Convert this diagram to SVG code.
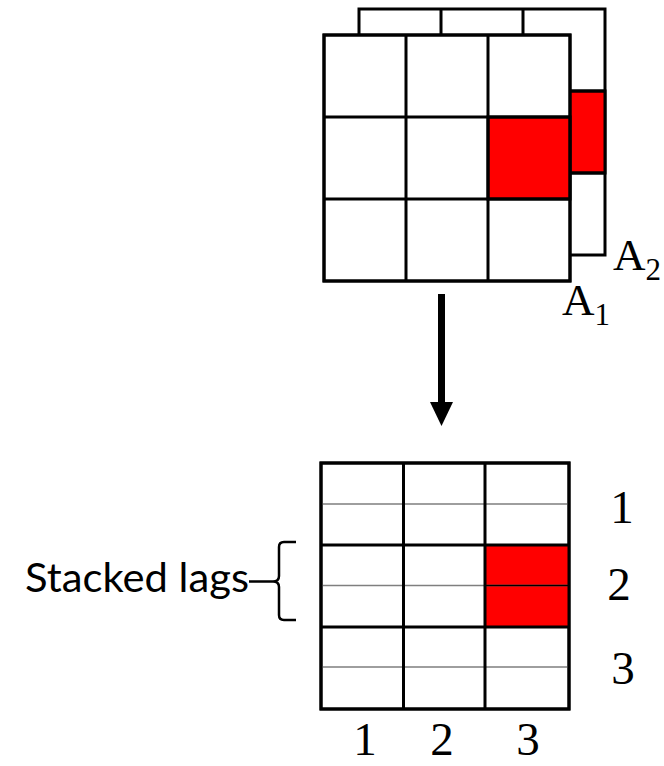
<svg xmlns="http://www.w3.org/2000/svg" width="664" height="766" viewBox="0 0 664 766">
  <style>
    .cell { fill: #ffffff; stroke: #000000; stroke-width: 3; }
    .red { fill: #ff0000; stroke: #000000; stroke-width: 3; }
    .grid { stroke: #000000; stroke-width: 3; fill: none; }
    .thin { stroke: #7f7f7f; stroke-width: 1.5; fill: none; }
    .num { font-family: "Liberation Serif", "DejaVu Serif", serif; font-size: 47px; fill: #000000; text-anchor: middle; }
    .mat { font-family: "Liberation Serif", "DejaVu Serif", serif; font-size: 45px; fill: #000000; }
    .sub { font-size: 31px; }
    .lbl { font-family: "Lato", "Liberation Sans", sans-serif; font-size: 41px; fill: #000000; }
  </style>

  <!-- Back matrix A2 -->
  <g id="matrix-a2">
    <rect class="cell" x="359" y="9" width="246" height="246"/>
    <rect class="red" x="523" y="91" width="82" height="82"/>
    <path class="grid" d="M441 9V255M523 9V255M359 91H605M359 173H605"/>
  </g>

  <!-- Front matrix A1 -->
  <g id="matrix-a1">
    <rect class="cell" x="324" y="35" width="246" height="246"/>
    <rect class="red" x="488" y="117" width="82" height="82"/>
    <path class="grid" d="M406 35V281M488 35V281M324 117H570M324 199H570"/>
    <rect class="grid" x="324" y="35" width="246" height="246"/>
  </g>

  <g id="label-a2">
    <text class="mat" x="613" y="270">A<tspan class="sub" dy="10">2</tspan></text>
  </g>
  <g id="label-a1">
    <text class="mat" x="562" y="315">A<tspan class="sub" dy="10">1</tspan></text>
  </g>

  <!-- Connectors -->
  <g id="connectors">
    <line x1="441.5" y1="294" x2="441.5" y2="404" stroke="#000000" stroke-width="7"/>
    <polygon points="430,402 453,402 441.5,426" fill="#000000"/>
  </g>

  <!-- Stacked matrix -->
  <g id="stacked-matrix">
    <rect class="cell" x="321" y="463" width="248" height="246"/>
    <rect x="485" y="545" width="84" height="82" fill="#ff0000"/>
    <path class="thin" d="M321 504H569M321 585.5H569M321 667H569"/>
    <line x1="485" y1="585.5" x2="569" y2="585.5" stroke="#000000" stroke-width="1.5"/>
    <path class="grid" d="M403.5 463V709M485 463V709M321 545H569M321 627H569"/>
    <rect class="grid" x="321" y="463" width="248" height="246"/>
  </g>

  <g id="row-labels">
    <text class="num" x="622" y="523">1</text>
    <text class="num" x="619" y="600">2</text>
    <text class="num" x="623" y="684">3</text>
  </g>
  <g id="col-labels">
    <text class="num" x="365" y="755">1</text>
    <text class="num" x="442" y="755">2</text>
    <text class="num" x="528" y="755">3</text>
  </g>

  <!-- Brace and caption -->
  <g id="stacked-lags">
    <text class="lbl" x="25" y="592" textLength="224" lengthAdjust="spacingAndGlyphs">Stacked lags</text>
    <path d="M296 542H284Q279 542 279 547V576Q279 581.5 273 581.5H249M273 581.5Q279 581.5 279 587V615Q279 620 284 620H296" fill="none" stroke="#000000" stroke-width="2.5"/>
  </g>
</svg>
